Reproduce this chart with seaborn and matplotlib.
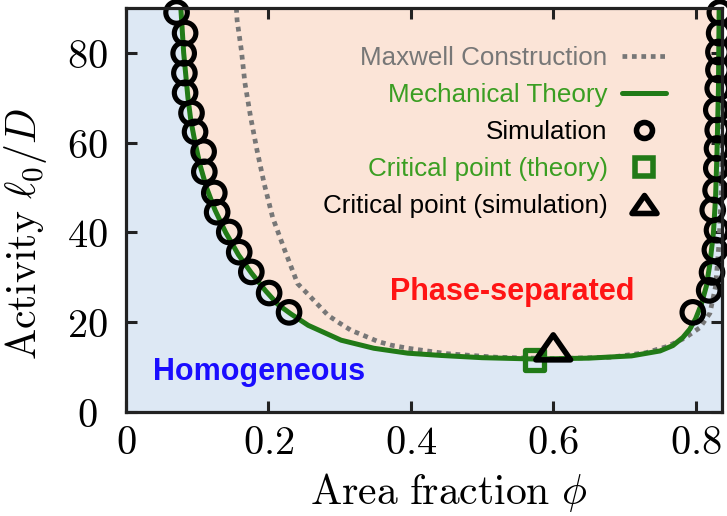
import matplotlib
matplotlib.use("Agg")
import matplotlib.pyplot as plt
import seaborn as sns
from matplotlib.lines import Line2D
from matplotlib.path import Path

# ---------------- data ----------------
theory_phi = [0.077, 0.079, 0.081, 0.084, 0.087, 0.091, 0.097, 0.104, 0.113, 0.125, 0.140,
              0.158, 0.176, 0.196, 0.213, 0.232, 0.256, 0.302, 0.348, 0.396, 0.442, 0.500,
              0.575, 0.650, 0.710, 0.750, 0.768, 0.782, 0.792, 0.800, 0.808, 0.815, 0.820,
              0.825, 0.828, 0.830, 0.832, 0.833]
theory_act = [90.0, 85.0, 80.0, 75.0, 70.0, 65.0, 60.0, 55.0, 50.0, 45.0, 40.0,
              35.0, 31.0, 27.0, 24.0, 21.8, 19.3, 16.0, 14.2, 13.1, 12.6, 12.1,
              11.8, 12.0, 12.5, 13.6, 14.8, 16.6, 18.5, 20.8, 24.0, 28.0, 33.0,
              40.0, 48.0, 58.0, 72.0, 90.0]

maxwell_phi = [0.155, 0.156, 0.162, 0.167, 0.175, 0.184, 0.194, 0.206, 0.223, 0.241, 0.257,
               0.284, 0.300, 0.316, 0.333, 0.354, 0.372, 0.396, 0.450, 0.520, 0.600, 0.680,
               0.730, 0.760, 0.785, 0.806, 0.820, 0.828, 0.833, 0.836, 0.838, 0.840]
maxwell_act = [90.0, 87.3, 80.6, 73.3, 65.7, 58.3, 50.9, 43.3, 36.0, 28.6, 26.0,
               21.5, 19.8, 18.2, 17.1, 15.7, 14.9, 14.2, 13.0, 12.2, 11.9, 12.2,
               13.2, 14.6, 16.5, 18.8, 22.0, 28.0, 38.0, 50.0, 65.0, 90.0]

sim_left_phi = [0.229, 0.201, 0.176, 0.159, 0.145, 0.128, 0.124, 0.110, 0.109, 0.097,
                0.092, 0.083, 0.082, 0.081, 0.083, 0.071]
sim_left_act = [22.2, 26.5, 31.2, 35.6, 40.1, 44.5, 48.8, 53.5, 58.0, 62.4,
                66.6, 71.1, 75.5, 79.9, 84.4, 89.0]
sim_right_phi = [0.796, 0.819, 0.823, 0.827, 0.830, 0.824, 0.828, 0.829, 0.830, 0.831,
                 0.829, 0.831, 0.832, 0.832, 0.833, 0.834]
sim_right_act = [22.2, 27.1, 31.1, 36.1, 40.5, 45.0, 49.4, 54.3, 58.7, 62.8,
                 67.3, 72.1, 76.2, 80.2, 84.4, 89.0]

crit_theory_phi = [0.574]
crit_theory_act = [11.6]
crit_sim_phi = [0.600]
crit_sim_act = [14.4]

xticks = [0, 0.2, 0.4, 0.6, 0.8]
xtick_labels = ["0", "0.2", "0.4", "0.6", "0.8"]
yticks = [0, 20, 40, 60, 80]
ytick_labels = ["0", "20", "40", "60", "80"]

legend_labels = ["Maxwell Construction", "Mechanical Theory", "Simulation",
                 "Critical point (theory)", "Critical point (simulation)"]

# ---------------- style ----------------
BLUE_BG = "#dde8f4"
PINK_BG = "#fbe4d7"
GREEN = "#217a17"
GREEN_TXT = "#3a9e22"
GRAY = "#777777"
SPINE = "#222222"
TRI = Path([(-1.0, -0.72), (1.0, -0.72), (0.0, 0.72), (-1.0, -0.72)],
           [Path.MOVETO, Path.LINETO, Path.LINETO, Path.CLOSEPOLY])

sns.set_theme(style="ticks")
plt.rcParams["mathtext.fontset"] = "cm"
plt.rcParams["font.family"] = ["Liberation Sans", "DejaVu Sans"]

fig = plt.figure(figsize=(7.27, 5.16), dpi=100)
ax = fig.add_axes([126 / 727, 1 - 412 / 516, (722 - 126) / 727, (412 - 8) / 516])
ax.set_facecolor(BLUE_BG)

# phase-separated region enclosed by the theory binodal
ax.fill(theory_phi, theory_act, color=PINK_BG, lw=0, zorder=0)

sns.lineplot(x=maxwell_phi, y=maxwell_act, sort=False, estimator=None, ax=ax,
             color=GRAY, linewidth=3.4, linestyle=(0, (1, 1.0)),
             dash_capstyle="butt", zorder=2)
sns.lineplot(x=theory_phi, y=theory_act, sort=False, estimator=None, ax=ax,
             color=GREEN, linewidth=3.6, zorder=3)

for px, py in [(sim_left_phi, sim_left_act), (sim_right_phi, sim_right_act)]:
    sns.scatterplot(x=px, y=py, ax=ax, marker="o", s=15.5 ** 2, color="black",
                    facecolor="none", edgecolor="black", linewidth=3.7,
                    clip_on=False, zorder=5)

sns.scatterplot(x=crit_theory_phi, y=crit_theory_act, ax=ax, marker="s", s=14 ** 2,
                color=GREEN, facecolor="none", edgecolor=GREEN, linewidth=3.8,
                clip_on=False, zorder=6)
sns.scatterplot(x=crit_sim_phi, y=crit_sim_act, ax=ax, marker=TRI, s=25 ** 2,
                color="black", facecolor="none", edgecolor="black", linewidth=4.0,
                clip_on=False, zorder=7)

ax.set_xlim(0.002, 0.837)
ax.set_ylim(0, 90)

ax.text(0.038, 8.8, "Homogeneous", color="#1a0dff", fontsize=22, fontweight="bold",
        ha="left", va="center", zorder=8)
ax.text(0.542, 26.7, "Phase-separated", color="#ff1414", fontsize=22, fontweight="bold",
        ha="center", va="center", zorder=8)

# legend
handles = [
    Line2D([], [], color=GRAY, lw=3.4, ls=(0, (1, 1.0)), dash_capstyle="butt"),
    Line2D([], [], color=GREEN, lw=3.6),
    Line2D([], [], ls="none", marker="o", ms=11.5, mfc="none", mec="black", mew=4.0),
    Line2D([], [], ls="none", marker="s", ms=12.5, mfc="none", mec=GREEN, mew=4.0),
    Line2D([], [], ls="none", marker=TRI, ms=18, mfc="none", mec="black", mew=4.0),
]
leg = ax.legend(handles, legend_labels, loc="upper right", bbox_to_anchor=(0.906, 0.905),
                markerfirst=False, frameon=False, fontsize=18.7, handlelength=1.7,
                handletextpad=0.55, labelspacing=0.5, borderpad=0, borderaxespad=0)
for t, c in zip(leg.get_texts(), [GRAY, GREEN_TXT, "black", GREEN_TXT, "black"]):
    t.set_color(c)
leg.set_zorder(9)

# axes styling
ax.set_xticks(xticks)
ax.set_xticklabels([f"${s}$" for s in xtick_labels])
ax.set_yticks(yticks)
ax.set_yticklabels([f"${s}$" for s in ytick_labels])
ax.tick_params(axis="both", direction="in", length=8, width=2.2, color=SPINE,
               top=True, right=True, labelsize=29, labelcolor="black")
ax.tick_params(axis="x", pad=9)
ax.tick_params(axis="y", pad=28)
for lbl in ax.get_yticklabels():
    lbl.set_horizontalalignment("center")
for sp in ax.spines.values():
    sp.set_linewidth(2.3)
    sp.set_color(SPINE)
    sp.set_zorder(10)

ax.set_xlabel(r"$\mathrm{Area\ fraction}\ \phi$", fontsize=30, color="black")
ax.set_ylabel(r"$\mathrm{Activity}\ \ell_0/D$", fontsize=30, color="black")
ax.xaxis.set_label_coords(0.542, -0.145)
ax.yaxis.set_label_coords(-0.13, 0.44)

fig.savefig("out.png", dpi=100)
